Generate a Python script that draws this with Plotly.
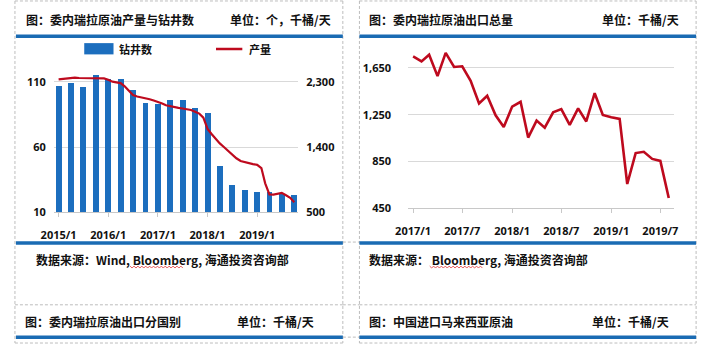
import plotly.graph_objects as go
import pandas as pd

# ---------------- data ----------------
rig_dates = pd.date_range("2015-01-01", periods=20, freq="3MS")
rig_counts = [107, 109, 106, 115, 112.5, 112, 104, 94, 93, 96,
              96, 90, 86, 46, 31, 27.5, 26, 25.5, 24.5, 23.5]

prod_dates = pd.date_range("2015-01-01", periods=58, freq="MS")
production = [2330, 2338, 2345, 2350, 2354, 2350, 2348, 2346, 2345, 2345,
              2345, 2344, 2325, 2300, 2290, 2280, 2235, 2170, 2115, 2095,
              2085, 2074, 2058, 2040, 2025, 2000, 1975, 1960, 1950, 1938,
              1930, 1920, 1910, 1885, 1860, 1805, 1650, 1575, 1510, 1450,
              1400, 1350, 1290, 1245, 1207, 1190, 1175, 1165, 1155, 1110,
              900, 748, 745, 760, 768, 735, 700, 640]

exp_dates = pd.date_range("2017-01-01", periods=32, freq="MS")
exports = [1748, 1706, 1762, 1580, 1778, 1658, 1664, 1540, 1347, 1412,
           1245, 1145, 1320, 1361, 1055, 1200, 1140, 1271, 1299, 1164,
           1305, 1193, 1434, 1248, 1229, 1215, 659, 923, 934, 873, 856, 540]

left_xticks = ["2015-01-01", "2016-01-01", "2017-01-01", "2018-01-01", "2019-01-01"]
left_xtext = ["2015/1", "2016/1", "2017/1", "2018/1", "2019/1"]
right_xticks = ["2017-01-01", "2017-07-01", "2018-01-01", "2018-07-01", "2019-01-01", "2019-07-01"]
right_xtext = ["2017/1", "2017/7", "2018/1", "2018/7", "2019/1", "2019/7"]

# ---------------- style ----------------
W, H = 704, 351
BLUE = "#1C6EBE"
LINE_BLUE = "#1A6BB3"
RED = "#BE0A1E"
GRID = "#D9D9D9"
BORDER = "#BDBDBD"
CJK = "Noto Sans CJK SC"
NUM = "Open Sans"

def px(x):
    return x / W

def py(y):
    return 1 - y / H

fig = go.Figure()

fig.add_trace(go.Bar(x=rig_dates, y=rig_counts, marker_color=BLUE, marker_line_width=0,
                     width=43 * 86400000, name="钻井数", xaxis="x", yaxis="y", showlegend=False))
fig.add_trace(go.Scatter(x=prod_dates, y=production, mode="lines", line=dict(color=RED, width=2.2),
                         name="产量", xaxis="x", yaxis="y2", showlegend=False))
fig.add_trace(go.Scatter(x=exp_dates, y=exports, mode="lines", line=dict(color=RED, width=2.6),
                         name="出口", xaxis="x3", yaxis="y3", showlegend=False))

tickfont = dict(family=NUM, size=11, color="#111111", weight="bold")

# left chart geometry
L_x0, L_x1 = 42, 292
L_ybot, L_ytop = 216.7, 60
lpu = (216.7 - 83.3) / 100.0
ly_top_val = 10 + (L_ybot - L_ytop) / lpu
rpu = (216.7 - 83.3) / 1800.0
ry_top_val = 500 + (L_ybot - L_ytop) / rpu

# right chart geometry
R_x0, R_x1 = 405, 677
R_ybot, R_ytop = 212.7, 45
upp = 1200 / (212.7 - 69.3)
r_top_val = 450 + (R_ybot - R_ytop) * upp

fig.update_layout(
    width=W, height=H, margin=dict(l=0, r=0, t=0, b=0),
    paper_bgcolor="white", plot_bgcolor="white", bargap=0,
    xaxis=dict(domain=[px(L_x0), px(L_x1)], type="date",
               range=["2014-11-28", "2019-10-28"],
               tickvals=left_xticks, ticktext=left_xtext, tickfont=tickfont,
               showgrid=False, showline=True, linecolor="#C8C8C8", linewidth=1,
               ticks="outside", ticklen=4, tickcolor="#C8C8C8", ticklabelstandoff=8,
               anchor="y", zeroline=False),
    yaxis=dict(domain=[py(L_ybot), py(L_ytop)], range=[10, ly_top_val],
               tickvals=[10, 60, 110], tickfont=tickfont, showgrid=True, gridcolor=GRID,
               gridwidth=1, zeroline=False, ticks="outside", ticklen=5,
               tickcolor="rgba(0,0,0,0)", anchor="x"),
    yaxis2=dict(domain=[py(L_ybot), py(L_ytop)], range=[500, ry_top_val], overlaying="y",
                side="right", tickvals=[500, 1400, 2300], tickformat=",", tickfont=tickfont,
                showgrid=False, zeroline=False, ticks="outside", ticklen=5,
                tickcolor="rgba(0,0,0,0)", anchor="x"),
    xaxis3=dict(domain=[px(R_x0), px(R_x1)], type="date",
                range=["2016-12-14", "2019-08-19"],
                tickvals=right_xticks, ticktext=right_xtext, tickfont=tickfont,
                showgrid=False, showline=True, linecolor="#C8C8C8", linewidth=1,
                ticks="outside", ticklen=4, tickcolor="#C8C8C8", ticklabelstandoff=8,
                anchor="y3", zeroline=False),
    yaxis3=dict(domain=[py(R_ybot), py(R_ytop)], range=[450, r_top_val],
                tickvals=[450, 850, 1250, 1650], tickformat=",", tickfont=tickfont,
                showgrid=True, gridcolor=GRID, zeroline=False, ticks="outside", ticklen=14,
                tickcolor="rgba(0,0,0,0)", anchor="x3"),
)

shapes = []

def hline(x0, x1, y, color, width, dash=None):
    d = dict(type="line", xref="paper", yref="paper", x0=px(x0), x1=px(x1), y0=py(y), y1=py(y),
             line=dict(color=color, width=width))
    if dash:
        d["line"]["dash"] = dash
    shapes.append(d)

def vline(x, y0, y1, color, width, dash=None):
    d = dict(type="line", xref="paper", yref="paper", x0=px(x), x1=px(x), y0=py(y0), y1=py(y1),
             line=dict(color=color, width=width))
    if dash:
        d["line"]["dash"] = dash
    shapes.append(d)

DASH = "3px,2px"
# dashed table borders
for (a, b) in [(2, 338), (355, 700)]:
    hline(a, b, 1, BORDER, 1, DASH)
    hline(a, b, 311, BORDER, 1, DASH)
    hline(a, b, 350, BORDER, 1, DASH)
    vline(a, 1, 350, BORDER, 1, DASH)
    vline(b, 1, 350, BORDER, 1, DASH)
hline(338, 355, 247, BORDER, 1, DASH)
hline(338, 355, 311, BORDER, 1, DASH)
hline(338, 355, 344, BORDER, 1, DASH)

# blue rules
for (a, b) in [(3, 338), (355, 700)]:
    hline(a, b, 37, LINE_BLUE, 3.5)
    hline(a, b, 248, LINE_BLUE, 3.5)
    hline(a, b, 344, LINE_BLUE, 3.5)

# legend swatches
shapes.append(dict(type="rect", xref="paper", yref="paper", x0=px(73), x1=px(103),
                   y0=py(55.5), y1=py(44), fillcolor=BLUE, line=dict(width=0)))
hline(208, 235, 50, RED, 2.5)

# red spell-check squiggles under "Bloomberg"
def squiggle(x0, x1, y):
    pts = []
    x = x0
    up = True
    while x <= x1:
        pts.append((x, y - 1 if up else y + 1))
        up = not up
        x += 2
    path = "M " + " L ".join(f"{px(a):.5f},{py(b):.5f}" for a, b in pts)
    shapes.append(dict(type="path", xref="paper", yref="paper", path=path,
                       line=dict(color="#E03030", width=0.8)))

squiggle(120, 174, 272.5)
squiggle(427, 482, 272.5)

fig.update_layout(shapes=shapes)

tf = dict(family=CJK, size=12, color="#111111", weight="bold")
lf = dict(family=CJK, size=11, color="#111111", weight="bold")

def text(x, y, s, anchor="left", font=tf):
    fig.add_annotation(xref="paper", yref="paper", x=px(x), y=py(y), text=s, showarrow=False,
                       xanchor=anchor, yanchor="middle", font=font)

text(11, 20, "图：委内瑞拉原油产量与钻井数")
text(328, 20, "单位：个，千桶/天", "right")
text(363, 20, "图：委内瑞拉原油出口总量")
text(685, 20, "单位：千桶/天", "right")
text(107, 50, "钻井数", font=lf)
text(240, 50, "产量", font=lf)
text(22, 265, "数据来源：Wind, Bloomberg, 海通投资咨询部")
text(363, 265, "数据来源： Bloomberg, 海通投资咨询部")
text(10, 328, "图：委内瑞拉原油出口分国别")
text(310, 328, "单位：千桶/天", "right")
text(363, 328, "图：中国进口马来西亚原油")
text(674, 328, "单位：千桶/天", "right")

fig.write_html("out.html")
